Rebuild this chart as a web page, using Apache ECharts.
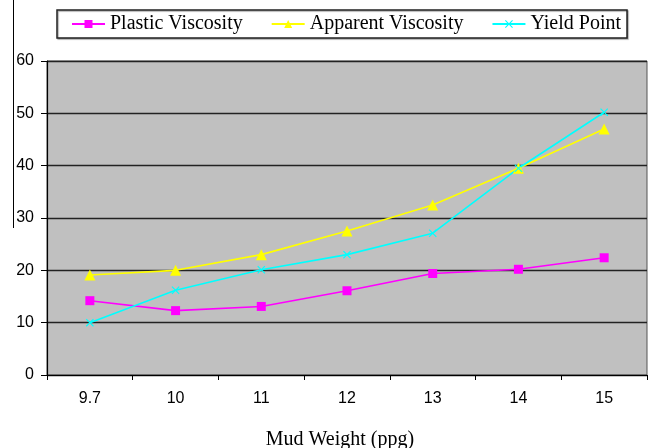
<!DOCTYPE html>
<html>
<head>
<meta charset="utf-8">
<script src="https://cdn.jsdelivr.net/npm/echarts@6/dist/echarts.min.js"></script>
<style>
  html, body { margin: 0; padding: 0; background: #fff; }
  #chart { width: 649px; height: 448px; }
</style>
</head>
<body>
<div id="chart"></div>
<script>
// Mud weight categories (ppg)
const mudWeights = ['9.7', '10', '11', '12', '13', '14', '15'];
// Rheology measurements at each mud weight
const plasticViscosity = [14.2, 12.3, 13.1, 16.1, 19.4, 20.2, 22.4];
const apparentViscosity = [19.1, 20, 23, 27.5, 32.5, 39.5, 47];
const yieldPoint = [10, 16.2, 20.1, 23, 27.1, 39.5, 50.2];
const yTicks = { min: 0, max: 60, interval: 10 };

// Filled "x" marker outline
const crossPath = 'path://M0,1 L1,0 L5,4 L9,0 L10,1 L6,5 L10,9 L9,10 L5,6 L1,10 L0,9 L4,5 Z';

const chart = echarts.init(document.getElementById('chart'));

function lineSeries(name, data, color, symbol, size) {
  return {
    name: name,
    type: 'line',
    data: data,
    symbol: symbol,
    symbolSize: size,
    showSymbol: true,
    lineStyle: { color: color, width: 1.6 },
    itemStyle: { color: color, borderWidth: 0 },
    emphasis: { disabled: true },
    animation: false
  };
}

chart.setOption({
  backgroundColor: '#ffffff',
  animation: false,
  grid: {
    left: 47, right: 2, top: 61, bottom: 73,
    outerBoundsMode: 'none',
    containLabel: false,
    show: true,
    backgroundColor: '#c0c0c0',
    borderColor: '#555555',
    borderWidth: 1
  },
  legend: {
    left: 57, top: 10,
    padding: [4, 6, 4, 14],
    itemWidth: 33, itemHeight: 10,
    itemGap: 28,
    borderColor: '#222222', borderWidth: 1.5,
    backgroundColor: '#ffffff',
    shadowColor: 'rgba(0,0,0,0.35)', shadowOffsetX: 1, shadowOffsetY: 1, shadowBlur: 1,
    textStyle: { fontFamily: 'Liberation Serif', fontSize: 20, color: '#000' },
    data: ['Plastic Viscosity', 'Apparent Viscosity', 'Yield Point']
  },
  xAxis: {
    type: 'category',
    data: mudWeights,
    boundaryGap: true,
    name: 'Mud Weight (ppg)',
    nameLocation: 'middle',
    nameGap: 55,
    nameTextStyle: { fontFamily: 'Liberation Serif', fontSize: 20, color: '#000', padding: [0, 14, 0, 0] },
    axisLine: { lineStyle: { color: '#000', width: 1.2 } },
    axisTick: { show: true, length: 5, lineStyle: { color: '#000' } },
    axisLabel: { fontFamily: 'Liberation Sans', fontSize: 16, color: '#000', margin: 16 },
    splitLine: { show: false }
  },
  yAxis: {
    type: 'value',
    min: yTicks.min, max: yTicks.max, interval: yTicks.interval,
    axisLine: { show: true, lineStyle: { color: '#000', width: 1.2 } },
    axisTick: { show: true, length: 6, lineStyle: { color: '#000' } },
    axisLabel: { fontFamily: 'Liberation Sans', fontSize: 16, color: '#000', margin: 13 },
    splitLine: { show: true, lineStyle: { color: '#222', width: 1.3 } }
  },
  graphic: [
    {
      type: 'line',
      shape: { x1: 13.5, y1: 0, x2: 13.5, y2: 228 },
      style: { stroke: '#000', lineWidth: 1 },
      silent: true
    }
  ],
  series: [
    lineSeries('Plastic Viscosity', plasticViscosity, '#ff00ff', 'rect', 9),
    lineSeries('Apparent Viscosity', apparentViscosity, '#ffff00', 'triangle', 11),
    lineSeries('Yield Point', yieldPoint, '#00ffff', crossPath, 8)
  ]
});
</script>
</body>
</html>
